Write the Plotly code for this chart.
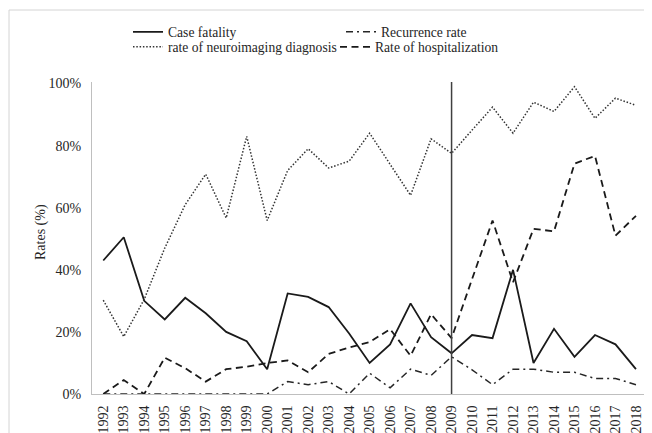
import plotly.graph_objects as go

# ---- data ----
years = list(range(1992, 2019))
case_fatality = [43, 50.5, 30, 24, 31, 26, 20, 17, 8, 32.4, 31.3, 28, 19.5, 10, 16,
                 29.2, 18.3, 13.1, 19, 18, 40, 10, 21, 12, 19, 16, 8]
recurrence_rate = [0, 0, 0, 0, 0, 0, 0, 0, 0, 4, 3, 4, 0, 6.7, 2, 8, 6, 12,
                   7.8, 3, 8, 8, 7, 7, 5, 5, 3]
neuroimaging_rate = [30.2, 18.5, 30.5, 47, 61, 70.8, 56.7, 83, 55.9, 72, 79, 72.8, 75,
                     84, 74, 64, 82.2, 77.5, 85, 92.4, 84, 94, 91, 99, 88.8, 95.3, 93]
hospitalization_rate = [0, 4.5, 0, 11.7, 8.3, 4, 8, 8.8, 10, 10.8, 7, 12.9, 15, 16.7,
                        20.9, 12.3, 25.7, 18, 37, 55.9, 36, 53.2, 52.4, 74.2, 76.7, 51, 57.4]
split_year = 2009
y_ticks = [0, 20, 40, 60, 80, 100]

FONT = "Liberation Serif, Times New Roman, serif"
TXT = "#262626"
OFF = 8                      # page body margin offset
W, H = 652 - OFF, 433 - OFF  # figure size
L, R, T, B = 92 - OFF, 6, 82 - OFF, 39
pw, ph = W - L - R, H - T - B
PLOT_L, PLOT_BOTTOM = 92, 394  # page pixel positions of plot area

def py(ypix):
    return (PLOT_BOTTOM - ypix) / ph

def px(xpix):
    return (xpix - PLOT_L) / pw

fig = go.Figure()
fig.add_trace(go.Scatter(x=years, y=case_fatality, mode="lines", name="Case fatality",
                         line=dict(color="#1a1a1a", width=1.8), legend="legend"))
fig.add_trace(go.Scatter(x=years, y=recurrence_rate, mode="lines", name="Recurrence rate",
                         line=dict(color="#262626", width=1.5, dash="7px,4px,2px,4px"),
                         legend="legend"))
fig.add_trace(go.Scatter(x=years, y=neuroimaging_rate, mode="lines",
                         name="rate of neuroimaging diagnosis",
                         line=dict(color="#333333", width=1.5, dash="1.5px,1.8px"),
                         legend="legend2"))
fig.add_trace(go.Scatter(x=years, y=hospitalization_rate, mode="lines",
                         name="Rate of hospitalization",
                         line=dict(color="#1a1a1a", width=1.8, dash="7px,4.5px"),
                         legend="legend2"))

legend_common = dict(orientation="h", xref="container", yref="container", xanchor="left",
                     yanchor="middle", x=(128 - OFF) / W,
                     entrywidthmode="pixels",
                     font=dict(family=FONT, size=13.6, color=TXT),
                     bgcolor="rgba(0,0,0,0)", itemclick=False, tracegroupgap=0)

fig.update_layout(
    width=W, height=H,
    margin=dict(l=L, r=R, t=T, b=B, autoexpand=False),
    paper_bgcolor="white", plot_bgcolor="white",
    font=dict(family=FONT, size=14, color=TXT),
    legend=dict(y=1 - (32 - OFF) / H, entrywidth=168, **legend_common),
    legend2=dict(y=1 - (47 - OFF) / H, entrywidth=162, **legend_common),
    xaxis=dict(range=[1991.45, 2018.49], tickmode="array", tickvals=years,
               ticktext=[str(y) for y in years], tickangle=-90,
               showgrid=False, zeroline=False, showline=True, linecolor="#bfbfbf",
               linewidth=1, ticks="outside", ticklen=5, tickcolor="rgba(0,0,0,0)",
               tickfont=dict(family=FONT, size=14, color=TXT)),
    yaxis=dict(range=[0, 100.5], tickmode="array", tickvals=y_ticks,
               ticktext=[f"{v}%" for v in y_ticks],
               showgrid=False, zeroline=False, showline=True, linecolor="#bfbfbf",
               linewidth=1, ticks="outside", ticklen=7, tickcolor="rgba(0,0,0,0)",
               tickfont=dict(family=FONT, size=14, color=TXT)),
    annotations=[dict(text="Rates (%)", xref="paper", yref="paper", x=px(41), y=py(232),
                      xanchor="center", yanchor="middle",
                      textangle=-90, showarrow=False,
                      font=dict(family=FONT, size=14, color=TXT))],
    shapes=[
        dict(type="line", xref="x", yref="paper", x0=split_year, x1=split_year, y0=0,
             y1=1, line=dict(color="#404040", width=1.5)),
        dict(type="rect", xref="paper", yref="paper", x0=px(9), x1=1.2, y0=-0.3,
             y1=py(10), line=dict(color="#d4d4d4", width=1), layer="below"),
    ],
)

fig.write_html("out.html")
